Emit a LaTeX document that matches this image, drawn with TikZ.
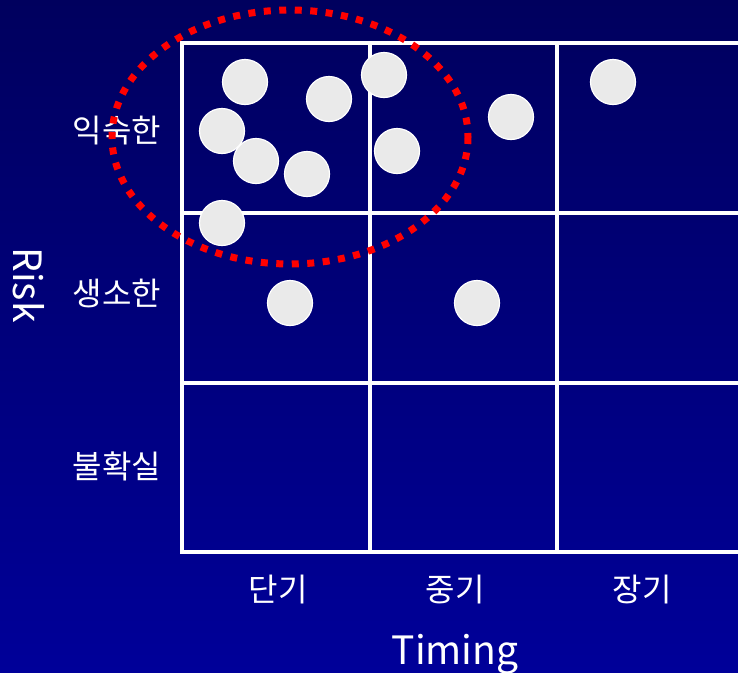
\documentclass[tikz,border=0pt]{standalone}
\usepackage{fontspec}
\setmainfont{Noto Sans CJK KR}
\usepackage{tikz}
\usetikzlibrary{positioning}
\definecolor{bgtop}{RGB}{0,0,94}
\definecolor{bgbot}{RGB}{0,0,153}
\definecolor{dotgray}{RGB}{234,234,234}

\begin{document}
\begin{tikzpicture}[x=1pt, y=-1pt,
  item/.style={circle, draw=white, line width=1.2pt, fill=dotgray,
               minimum size=45pt, inner sep=0pt},
  rowlab/.style={text=white, font=\fontsize{32}{32}\selectfont},
  axislab/.style={text=white, font=\fontsize{39}{39}\selectfont},
  gridline/.style={white, line width=3.5pt, line cap=rect},
  focus/.style={red, line width=7pt, dash pattern=on 7pt off 8.5pt}
]
\useasboundingbox (0,0) rectangle (738,672);
\shade[top color=bgtop, bottom color=bgbot] (0,0) rectangle (738,672);

\draw[gridline] (182,43) -- (742,43);
\draw[gridline] (182,213) -- (742,213);
\draw[gridline] (182,383) -- (742,383);
\draw[gridline] (182,552) -- (742,552);
\draw[gridline] (182,43) -- (182,552);
\draw[gridline] (370,43) -- (370,552);
\draw[gridline] (557,43) -- (557,552);

\node[rowlab] (familiar)   at (117,131) {익숙한};
\node[rowlab] (unfamiliar) at (117,293) {생소한};
\node[rowlab] (uncertain)  at (117,466) {불확실};
\node[rowlab] (short)      at (278,590) {단기};
\node[rowlab] (middle)     at (455,590) {중기};
\node[rowlab] (long)       at (642,590) {장기};
\node[axislab, anchor=base] (timing) at (455,664) {Timing};
\node[axislab, rotate=-90]  (risk)   at (29,285) {Risk};

\node[item] (p1)  at (245,82) {};
\node[item] (p2)  at (329,99) {};
\node[item] (p3)  at (384,75) {};
\node[item] (p4)  at (222,131) {};
\node[item] (p5)  at (256,161) {};
\node[item] (p6)  at (307,174) {};
\node[item] (p7)  at (397,151) {};
\node[item] (p8)  at (511,117) {};
\node[item] (p9)  at (613,82) {};
\node[item] (p10) at (222,223) {};
\node[item] (p11) at (290,303) {};
\node[item] (p12) at (477,303) {};

\draw[focus] (290,137) ellipse [x radius=178, y radius=127];
\end{tikzpicture}
\end{document}
